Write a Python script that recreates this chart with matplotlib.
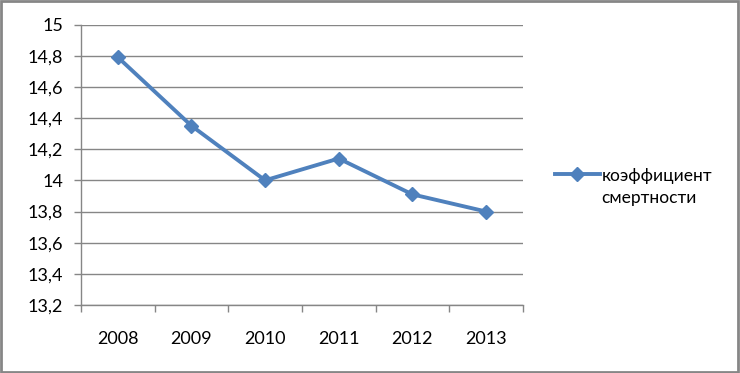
import matplotlib.pyplot as plt
from matplotlib.ticker import FixedLocator, FuncFormatter
from matplotlib.patches import Rectangle
from matplotlib.offsetbox import HPacker

years = ['2008', '2009', '2010', '2011', '2012', '2013']
mortality = [14.79, 14.35, 14.0, 14.14, 13.91, 13.8]
yticks = [13.2, 13.4, 13.6, 13.8, 14.0, 14.2, 14.4, 14.6, 14.8, 15.0]
label = 'коэффициент\nсмертности'

plt.rcParams['font.family'] = ['Lato', 'DejaVu Sans']
grey = '#868686'
blue = '#4F81BD'

fig = plt.figure(figsize=(7.4, 3.73), dpi=100)
ax = fig.add_axes([0.1095, 0.1823, 0.597, 0.752])

x = list(range(len(years)))
ax.plot(x, mortality, color=blue, lw=2.8, marker='D', ms=7.5,
        label=label, zorder=3, clip_on=False)

ax.set_xlim(-0.5, len(years) - 0.5)
ax.set_ylim(13.2, 15.0)
ax.set_yticks(yticks)
ax.yaxis.set_major_formatter(FuncFormatter(lambda v, p: ('%g' % round(v, 1)).replace('.', ',')))
ax.set_xticks(x)
ax.set_xticklabels(years)
ax.xaxis.set_minor_locator(FixedLocator([i - 0.5 for i in range(len(years) + 1)]))

ax.grid(axis='y', color=grey, lw=1)
ax.set_axisbelow(True)
for s in ['top', 'right']:
    ax.spines[s].set_visible(False)
for s in ['left', 'bottom']:
    ax.spines[s].set_color(grey)
    ax.spines[s].set_linewidth(1)

ax.tick_params(axis='y', length=5, width=1, color=grey, pad=8, labelsize=13, labelcolor='black')
ax.tick_params(axis='x', which='major', length=0, pad=18.5, labelsize=13, labelcolor='black')
ax.tick_params(axis='x', which='minor', length=5, width=1, color=grey)

leg = fig.legend(loc='upper left', bbox_to_anchor=(0.738, 0.572), frameon=False,
                 fontsize=12.5, handlelength=2.6, handletextpad=0.1, borderpad=0,
                 labelspacing=0)
for t in leg.get_texts():
    t.set_linespacing(1.45)


def align_top(box):
    # put the legend marker next to the first line of the label
    for child in box.get_children():
        if isinstance(child, HPacker):
            child.align = 'top'
        if hasattr(child, 'get_children'):
            align_top(child)


align_top(leg._legend_handle_box)

fig.patches.append(Rectangle((0.0015, 0.003), 0.996, 0.994, transform=fig.transFigure,
                             fill=False, edgecolor=grey, lw=2))

fig.savefig('out.png', dpi=100)
